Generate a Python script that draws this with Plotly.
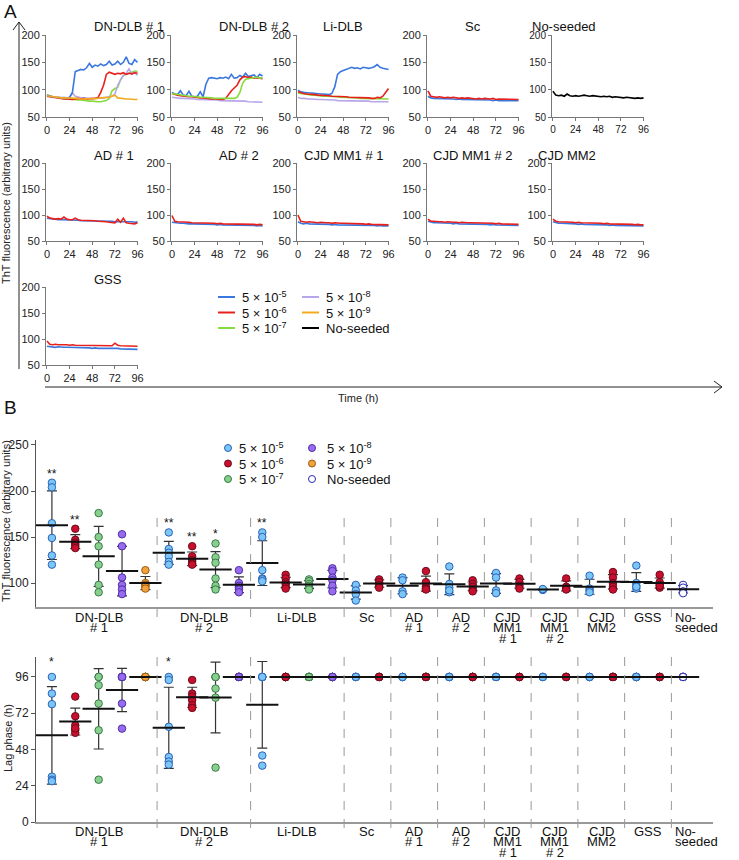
import numpy as np
import plotly.graph_objects as go

W, H = 739, 860
FONT = "Liberation Sans, Arial, Helvetica, sans-serif"

# ---------------- data ----------------
TIME_H = [0, 3, 6, 9, 12, 15, 18, 21, 24, 27, 30, 33, 36, 39, 42, 45, 48,
          51, 54, 57, 60, 63, 66, 69, 72, 75, 78, 81, 84, 87, 90, 93, 96]

CONC_LABELS = ["5 × 10<sup>-5</sup>", "5 × 10<sup>-6</sup>", "5 × 10<sup>-7</sup>",
               "5 × 10<sup>-8</sup>", "5 × 10<sup>-9</sup>", "No-seeded"]
LINE_COLORS = ["#3a78e0", "#e8201c", "#86dc3c", "#b9a5ea", "#f2aa1e", "#000000"]
DOT_FILL = ["#7cc6f6", "#c8102e", "#86cf8c", "#9a6ced", "#f2a23a", "#ffffff"]
DOT_EDGE = ["#2a62b8", "#6e0a1c", "#3c7a4a", "#4a30a8", "#9a5a14", "#2a2ab8"]

PANEL_TITLES = ["DN-DLB # 1", "DN-DLB # 2", "Li-DLB", "Sc", "No-seeded",
                "AD # 1", "AD # 2", "CJD MM1 # 1", "CJD MM1 # 2", "CJD MM2", "GSS"]

# Panel A kinetics (ThT fluorescence, arbitrary units)
DN1_C5 = [90, 88, 87, 86, 86, 85, 85, 84, 86, 95, 133, 135, 137, 136, 140, 148, 141,
          145, 143, 147, 144, 146, 152, 145, 147, 152, 146, 150, 160, 148, 146, 155, 150]
DN1_C6 = [88, 87, 86, 85, 84, 84, 83, 83, 82, 82, 83, 84, 83, 84, 83, 83, 84,
          84, 85, 95, 108, 128, 132, 130, 128, 130, 129, 131, 128, 130, 129, 131, 130]
DN1_C7 = [90, 88, 87, 86, 85, 84, 84, 83, 83, 82, 82, 81, 81, 80, 80, 79, 79,
          78, 78, 78, 79, 80, 84, 98, 102, 104, 118, 126, 128, 130, 132, 134, 133]
DN1_C8 = [88, 87, 87, 86, 86, 85, 86, 85, 86, 94, 88, 86, 85, 85, 84, 84, 84,
          84, 84, 84, 85, 86, 87, 88, 92, 108, 118, 126, 130, 138, 128, 132, 126]
DN1_C9 = [89, 88, 87, 86, 86, 85, 85, 85, 84, 84, 84, 84, 83, 83, 83, 83, 84,
          84, 84, 85, 85, 85, 86, 88, 90, 85, 84, 83, 83, 83, 82, 82, 82]

DN2_C5 = [95, 92, 91, 98, 90, 89, 97, 88, 87, 88, 96, 87, 110, 121, 122, 121, 120,
          122, 121, 123, 120, 128, 121, 122, 126, 123, 130, 124, 125, 127, 122, 128, 125]
DN2_C6 = [93, 91, 90, 89, 88, 88, 87, 87, 86, 86, 85, 85, 84, 84, 83, 83, 83,
          82, 82, 84, 92, 98, 103, 108, 118, 123, 124, 122, 123, 121, 122, 121, 120]
DN2_C7 = [93, 92, 91, 90, 89, 89, 88, 88, 87, 87, 86, 86, 86, 85, 85, 84, 84,
          84, 83, 83, 83, 83, 84, 86, 95, 112, 119, 120, 121, 122, 123, 121, 122]
DN2_C8 = [86, 85, 85, 84, 84, 84, 83, 83, 83, 82, 82, 82, 82, 81, 81, 81, 81,
          80, 80, 80, 80, 80, 79, 79, 79, 79, 79, 78, 78, 78, 78, 78, 77]

LI_C5 = [99, 96, 95, 94, 94, 94, 93, 93, 92, 92, 92, 91, 93, 105, 128, 133, 135,
         137, 140, 141, 139, 140, 138, 141, 140, 139, 140, 142, 146, 141, 139, 138, 137]
LI_C6 = [96, 94, 93, 92, 92, 91, 91, 90, 90, 89, 89, 89, 88, 88, 88, 87, 87,
         87, 86, 86, 86, 85, 85, 85, 85, 85, 84, 84, 86, 85, 88, 96, 102]
LI_C7 = [94, 93, 92, 91, 91, 90, 90, 89, 89, 88, 88, 88, 87, 87, 87, 86, 86,
         86, 85, 85, 85, 85, 84, 84, 84, 84, 84, 83, 83, 83, 83, 83, 83]
LI_C8 = [86, 84, 84, 83, 83, 83, 82, 82, 82, 82, 81, 81, 81, 81, 80, 80, 80,
         80, 80, 79, 79, 79, 79, 79, 79, 79, 78, 78, 78, 78, 78, 78, 78]

SC_C5 = [88, 85, 84, 84, 84, 83, 83, 84, 83, 83, 82, 83, 82, 82, 82, 82, 81,
         82, 81, 81, 81, 81, 81, 80, 81, 80, 80, 80, 80, 80, 80, 80, 80]
SC_C6 = [98, 88, 87, 86, 87, 86, 85, 86, 85, 86, 85, 84, 85, 84, 85, 84, 84,
         83, 84, 83, 84, 83, 83, 84, 82, 83, 83, 82, 83, 82, 82, 82, 82]

NOSEED = [97, 90, 89, 90, 88, 92, 89, 88, 89, 88, 89, 90, 89, 88, 89, 88, 88,
          87, 88, 87, 88, 86, 87, 86, 86, 85, 86, 85, 85, 84, 85, 84, 85]

AD1_C5 = [94, 93, 92, 92, 91, 91, 91, 90, 90, 90, 90, 90, 89, 89, 89, 89, 88,
          88, 88, 88, 88, 88, 88, 88, 87, 87, 88, 87, 87, 87, 87, 86, 87]
AD1_C6 = [98, 94, 93, 92, 93, 92, 96, 92, 91, 91, 94, 91, 90, 90, 90, 89, 89,
          89, 88, 88, 87, 87, 86, 86, 85, 92, 86, 94, 85, 84, 84, 83, 85]
AD2_C5 = [86, 85, 84, 84, 84, 83, 83, 83, 83, 82, 83, 82, 82, 82, 82, 82, 81,
          82, 81, 81, 81, 81, 81, 80, 81, 80, 80, 80, 80, 80, 79, 80, 79]
AD2_C6 = [99, 88, 87, 87, 86, 86, 86, 85, 85, 85, 85, 84, 84, 84, 84, 84, 83,
          84, 83, 83, 83, 83, 83, 82, 83, 82, 82, 82, 82, 82, 81, 82, 81]
MM1A_C5 = [87, 84, 83, 84, 83, 83, 82, 83, 82, 82, 82, 82, 81, 82, 81, 81, 81,
           81, 81, 81, 80, 81, 80, 80, 80, 80, 80, 80, 79, 80, 79, 79, 79]
MM1A_C6 = [100, 88, 87, 86, 87, 86, 86, 85, 86, 85, 85, 85, 84, 85, 84, 84, 84,
           84, 83, 84, 83, 83, 83, 83, 82, 83, 82, 82, 82, 82, 81, 82, 81]
MM1B_C5 = [88, 86, 85, 85, 85, 84, 84, 84, 84, 83, 84, 83, 83, 83, 83, 82, 83,
           82, 82, 82, 82, 82, 81, 82, 81, 81, 81, 81, 81, 80, 81, 80, 80]
MM1B_C6 = [92, 88, 88, 87, 87, 87, 86, 87, 86, 86, 86, 85, 86, 85, 85, 85, 85,
           84, 85, 84, 84, 84, 84, 84, 83, 84, 83, 83, 83, 83, 83, 83, 82]
MM2_C5 = [87, 85, 84, 84, 84, 83, 83, 83, 83, 82, 83, 82, 82, 82, 81, 82, 81,
          81, 81, 81, 80, 81, 80, 80, 80, 80, 79, 80, 79, 79, 79, 79, 79]
MM2_C6 = [92, 88, 87, 87, 86, 87, 86, 86, 85, 86, 85, 85, 85, 84, 85, 84, 84,
          84, 83, 84, 83, 83, 83, 83, 82, 83, 82, 82, 82, 81, 82, 81, 81]
GSS_C5 = [86, 85, 85, 84, 85, 84, 84, 84, 84, 83, 84, 83, 83, 83, 83, 83, 82,
          83, 82, 82, 82, 82, 82, 82, 83, 82, 81, 81, 81, 81, 81, 80, 80]
GSS_C6 = [96, 90, 89, 90, 89, 89, 90, 89, 88, 89, 88, 88, 88, 87, 88, 87, 87,
          87, 88, 87, 87, 87, 88, 87, 92, 88, 87, 87, 87, 86, 87, 86, 86]

# Panel B: groups (one column each)
CATEGORY_LINES = [["DN-DLB", "# 1"], ["DN-DLB", "# 2"], ["Li-DLB"], ["Sc"],
                  ["AD", "# 1"], ["AD", "# 2"], ["CJD", "MM1", "# 1"],
                  ["CJD", "MM1", "# 2"], ["CJD", "MM2"], ["GSS"], ["No-", "seeded"]]
GROUP_CATEGORY = [0, 0, 0, 0, 0, 1, 1, 1, 1, 2, 2, 2, 2, 3, 3, 4, 4, 5, 5,
                  6, 6, 7, 7, 8, 8, 9, 9, 10]
GROUP_CONC = [0, 1, 2, 3, 4, 0, 1, 2, 3, 0, 1, 2, 3, 0, 1, 0, 1, 0, 1,
              0, 1, 0, 1, 0, 1, 0, 1, 5]

FLUOR_POINTS = [
    [209, 204, 165, 149, 130, 120], [159, 147, 144, 142, 140, 138],
    [176, 150, 140, 120, 98, 90], [153, 140, 106, 98, 93, 88],
    [114, 100, 98, 98, 96, 94],
    [155, 137, 133, 129, 123, 120], [140, 129, 125, 123, 121, 120],
    [143, 128, 122, 105, 97, 93], [114, 100, 97, 95, 93, 90],
    [155, 150, 114, 105, 104, 102], [109, 105, 101, 99, 96, 94],
    [104, 102, 99, 97, 95, 93], [116, 113, 106, 103, 97, 91],
    [98, 92, 88, 81], [104, 101, 98, 95],
    [106, 103, 91, 88], [113, 101, 96, 94, 93],
    [118, 99, 95, 90, 92], [103, 99, 96, 93, 91],
    [111, 106, 92, 89], [105, 101, 97, 94],
    [93, 92.5, 93.5], [105, 96, 94, 93],
    [108, 94, 92, 90], [112, 106, 100, 96, 93],
    [119, 100, 97, 94, 96], [109, 101, 98, 95, 97],
    [98, 95, 91, 89],
]
FLUOR_SIG = ["**", "**", "", "", "", "**", "**", "*", "", "**", "", "", "",
             "", "", "", "", "", "", "", "", "", "", "", "", "", "", ""]

LAG_POINTS = [
    [96, 85, 78, 30, 28, 27], [83, 70, 64, 61, 59, 62],
    [96, 96, 90.5, 78.4, 60.7, 28], [96, 96, 96, 96, 78.4, 61.8],
    [96, 96, 96, 96, 96, 96],
    [96, 94, 63, 43, 40, 38], [94, 85, 83, 80.6, 77.3, 75.5],
    [96, 96, 96, 88.3, 82.3, 36], [96, 96, 96, 96, 96, 96],
    [96, 96, 96, 96, 44, 37.3], [96, 96, 96, 96, 96, 96],
    [96, 96, 96, 96, 96, 96], [96, 96, 96, 96, 96, 96],
    [96, 96, 96, 96], [96, 96, 96, 96],
    [96, 96, 96, 96], [96, 96, 96, 96, 96],
    [96, 96, 96, 96, 96], [96, 96, 96, 96, 96],
    [96, 96, 96, 96], [96, 96, 96, 96],
    [96, 96, 96], [96, 96, 96, 96],
    [96, 96, 96, 96], [96, 96, 96, 96, 96],
    [96, 96, 96, 96, 96], [96, 96, 96, 96, 96],
    [96, 96, 96, 96],
]
LAG_SIG = ["*", "", "", "", "", "*", "", "", "", "", "", "", "",
           "", "", "", "", "", "", "", "", "", "", "", "", "", "", ""]

PANEL_TRACES = [
    [(2, DN1_C7), (3, DN1_C8), (1, DN1_C6), (0, DN1_C5), (4, DN1_C9)],
    [(3, DN2_C8), (0, DN2_C5), (1, DN2_C6), (2, DN2_C7)],
    [(3, LI_C8), (0, LI_C5), (2, LI_C7), (1, LI_C6)],
    [(0, SC_C5), (1, SC_C6)],
    [(5, NOSEED)],
    [(0, AD1_C5), (1, AD1_C6)],
    [(0, AD2_C5), (1, AD2_C6)],
    [(0, MM1A_C5), (1, MM1A_C6)],
    [(0, MM1B_C5), (1, MM1B_C6)],
    [(0, MM2_C5), (1, MM2_C6)],
    [(0, GSS_C5), (1, GSS_C6)],
]

# ---------------- layout helpers ----------------
def fx(p):
    return p / W


def fy(p):
    return 1 - p / H


AXCOL = "#777777"

fig = go.Figure()
layout = dict(width=W, height=H, margin=dict(l=0, r=0, t=0, b=0, pad=0, autoexpand=False),
              paper_bgcolor="white", plot_bgcolor="white",
              font=dict(family=FONT, color="#222222"), showlegend=False)
annotations = []
shapes = []

COL_X = [46, 171, 297, 427, 552]
ROW_Y = [35, 163, 287]
ROW_H = [82, 78, 78]
PW = 92

for i, title in enumerate(PANEL_TITLES):
    r, c = divmod(i, 5)
    n = i + 1
    sx = "" if n == 1 else str(n)
    x0, y0 = COL_X[c], ROW_Y[r]
    x1, y1 = x0 + PW, y0 + ROW_H[r]
    tf = dict(family=FONT, size=10 if title == "No-seeded" else 11, color="#222222")
    layout["xaxis" + sx] = dict(domain=[fx(x0), fx(x1)], anchor="y" + sx, range=[-1, 96.5],
                                tickvals=[0, 24, 48, 72, 96], ticks="outside", ticklen=3,
                                tickcolor=AXCOL, showline=True, linecolor=AXCOL, linewidth=1,
                                showgrid=False, zeroline=False, tickfont=tf,
                                automargin=False)
    layout["yaxis" + sx] = dict(domain=[fy(y1), fy(y0)], anchor="x" + sx, range=[50, 200],
                                tickvals=[50, 100, 150, 200], ticks="outside", ticklen=3,
                                tickcolor=AXCOL, showline=True, linecolor=AXCOL, linewidth=1,
                                showgrid=False, zeroline=False, tickfont=tf,
                                automargin=False)
    annotations.append(dict(text=title, x=fx((x0 + x1) / 2), y=fy(y0 - 8), xref="paper",
                            yref="paper", showarrow=False, yanchor="middle",
                            font=dict(size=13, family=FONT, color="#111111")))
    for conc, vals in PANEL_TRACES[i]:
        fig.add_trace(go.Scatter(x=TIME_H, y=vals, mode="lines", name=CONC_LABELS[conc],
                                 line=dict(color=LINE_COLORS[conc], width=1.6),
                                 xaxis="x" + sx, yaxis="y" + sx))

# ---------------- panel B ----------------
XR = [-0.68, 28.28]
layout["xaxis12"] = dict(domain=[fx(36), fx(713)], anchor="y12", range=XR, showticklabels=False,
                         ticks="", showline=True, linecolor="#999999", linewidth=2,
                         showgrid=False, zeroline=False, automargin=False)
layout["yaxis12"] = dict(domain=[fy(607), fy(440)], anchor="x12", range=[74, 255.4],
                         tickvals=[100, 150, 200, 250], ticks="outside", ticklen=4,
                         tickcolor="#555555", showline=True, linecolor="#555555", linewidth=1,
                         showgrid=False, zeroline=False, automargin=False,
                         tickfont=dict(family=FONT, size=12, color="#222222"))
layout["xaxis13"] = dict(domain=[fx(36), fx(713)], anchor="y13", range=XR, showticklabels=False,
                         ticks="", showline=True, linecolor="#999999", linewidth=2,
                         showgrid=False, zeroline=False, automargin=False)
layout["yaxis13"] = dict(domain=[fy(822), fy(657)], anchor="x13", range=[0, 109.2],
                         tickvals=[0, 24, 48, 72, 96], ticks="outside", ticklen=4,
                         tickcolor="#555555", showline=True, linecolor="#555555", linewidth=1,
                         showgrid=False, zeroline=False, automargin=False,
                         tickfont=dict(family=FONT, size=12, color="#222222"))

for ax, points, sigs in (("12", FLUOR_POINTS, FLUOR_SIG), ("13", LAG_POINTS, LAG_SIG)):
    for g, pts in enumerate(points):
        conc = GROUP_CONC[g]
        arr = np.array(pts, dtype=float)
        m = float(arr.mean())
        sd = float(arr.std(ddof=1)) if len(arr) > 1 else 0.0
        fig.add_trace(go.Scatter(x=[g], y=[m], mode="markers",
                                 marker=dict(size=1, color="rgba(0,0,0,0)"),
                                 error_y=dict(type="data", array=[sd], visible=True,
                                              color="#333333", thickness=1.2, width=5),
                                 xaxis="x" + ax, yaxis="y" + ax, hoverinfo="skip"))
        fig.add_trace(go.Scatter(x=[g] * len(pts), y=pts, mode="markers", name=CONC_LABELS[conc],
                                 marker=dict(size=7.5, color=DOT_FILL[conc],
                                             line=dict(color=DOT_EDGE[conc], width=1)),
                                 xaxis="x" + ax, yaxis="y" + ax))
        fig.add_trace(go.Scatter(x=[g], y=[m], mode="markers",
                                 marker=dict(symbol="line-ew", size=23,
                                             line=dict(color="#111111", width=2)),
                                 xaxis="x" + ax, yaxis="y" + ax, hoverinfo="skip"))
        if sigs[g]:
            top = max(float(arr.max()), m + sd)
            annotations.append(dict(text=sigs[g], x=g, y=top + 10, xref="x" + ax,
                                    yref="y" + ax, showarrow=False, yanchor="middle",
                                    font=dict(size=12, family=FONT, color="#111111")))

# dividers & category labels
dividers = [g + 0.5 for g in range(len(GROUP_CATEGORY) - 1)
            if GROUP_CATEGORY[g] != GROUP_CATEGORY[g + 1]]
for ax, (ya, yb) in (("x12", (518, 626)), ("x13", (657, 836))):
    for d in dividers:
        shapes.append(dict(type="line", xref=ax, yref="paper", x0=d, x1=d,
                           y0=fy(ya), y1=fy(yb),
                           line=dict(color="#999999", width=1, dash="dash")))

for ax, ybase in (("x12", 617), ("x13", 831)):
    for ci, lines in enumerate(CATEGORY_LINES):
        slots = [g for g, cc in enumerate(GROUP_CATEGORY) if cc == ci]
        last = ci == len(CATEGORY_LINES) - 1
        xc = dividers[-1] + 0.08 if last else float(np.mean(slots))
        for li, txt in enumerate(lines):
            annotations.append(dict(text=txt, x=xc, y=fy(ybase + 10.5 * li), xref=ax,
                                    yref="paper", showarrow=False, yanchor="middle",
                                    xanchor="left" if last else "center",
                                    font=dict(size=13, family=FONT, color="#111111")))

# legends (two columns each), built from the series labels / colours
LEG_FONT = dict(size=13, family=FONT, color="#111111")
A_COLS = [(218, 240), (302, 324)]
A_ROWS = [297, 312.5, 328]
B_COLS = [(228, 237), (312, 325)]
B_ROWS = [448, 463.5, 479]
for k, label in enumerate(CONC_LABELS):
    col, row = divmod(k, 3)
    lx, tx = A_COLS[col]
    yy = A_ROWS[row]
    shapes.append(dict(type="line", xref="paper", yref="paper", x0=fx(lx), x1=fx(lx + 17),
                       y0=fy(yy), y1=fy(yy), line=dict(color=LINE_COLORS[k], width=2)))
    annotations.append(dict(text=label, x=fx(tx), y=fy(yy), xref="paper", yref="paper",
                            showarrow=False, xanchor="left", yanchor="middle", font=LEG_FONT))
    mx, tx = B_COLS[col]
    yy = B_ROWS[row]
    shapes.append(dict(type="circle", xref="paper", yref="paper",
                       x0=fx(mx - 3.5), x1=fx(mx + 3.5), y0=fy(yy + 3.5), y1=fy(yy - 3.5),
                       fillcolor=DOT_FILL[k], line=dict(color=DOT_EDGE[k], width=1)))
    annotations.append(dict(text=label, x=fx(tx), y=fy(yy), xref="paper", yref="paper",
                            showarrow=False, xanchor="left", yanchor="middle", font=LEG_FONT))

# panel letters, axis titles
annotations += [
    dict(text="A", x=fx(2), y=fy(11), xref="paper", yref="paper", showarrow=False,
         xanchor="left", yanchor="middle", font=dict(size=19, family=FONT, color="#111")),
    dict(text="B", x=fx(2), y=fy(407), xref="paper", yref="paper", showarrow=False,
         xanchor="left", yanchor="middle", font=dict(size=19, family=FONT, color="#111")),
    dict(text="ThT fluorescence (arbitrary units)", x=fx(6), y=fy(203), xref="paper",
         yref="paper", showarrow=False, textangle=-90, xanchor="center", yanchor="middle",
         font=dict(size=11, family=FONT, color="#222")),
    dict(text="Time (h)", x=fx(358), y=fy(398), xref="paper", yref="paper", showarrow=False,
         xanchor="center", yanchor="middle", font=dict(size=11, family=FONT, color="#222")),
    dict(text="ThT fluorescence (arbitrary units)", x=fx(6), y=fy(521), xref="paper",
         yref="paper", showarrow=False, textangle=-90, xanchor="center", yanchor="middle",
         font=dict(size=11, family=FONT, color="#222")),
    dict(text="Lag phase (h)", x=fx(8), y=fy(738), xref="paper",
         yref="paper", showarrow=False, textangle=-90, xanchor="center", yanchor="middle",
         font=dict(size=11, family=FONT, color="#222")),
]

# big arrows of panel A
shapes += [
    dict(type="line", xref="paper", yref="paper", x0=fx(19), x1=fx(19), y0=fy(369), y1=fy(22),
         line=dict(color="#222", width=1)),
    dict(type="path", xref="paper", yref="paper",
         path=f"M {fx(13)},{fy(30)} L {fx(19)},{fy(22)} L {fx(25)},{fy(30)}",
         line=dict(color="#222", width=1)),
    dict(type="line", xref="paper", yref="paper", x0=fx(45), x1=fx(722), y0=fy(387), y1=fy(387),
         line=dict(color="#222", width=1)),
    dict(type="path", xref="paper", yref="paper",
         path=f"M {fx(714)},{fy(381)} L {fx(722)},{fy(387)} L {fx(714)},{fy(393)}",
         line=dict(color="#222", width=1)),
]

layout["annotations"] = annotations
layout["shapes"] = shapes
fig.update_layout(**layout)
fig.write_html("out.html", config={"displayModeBar": False},
               post_script="document.body.style.margin='0px';document.body.style.padding='0px';")
